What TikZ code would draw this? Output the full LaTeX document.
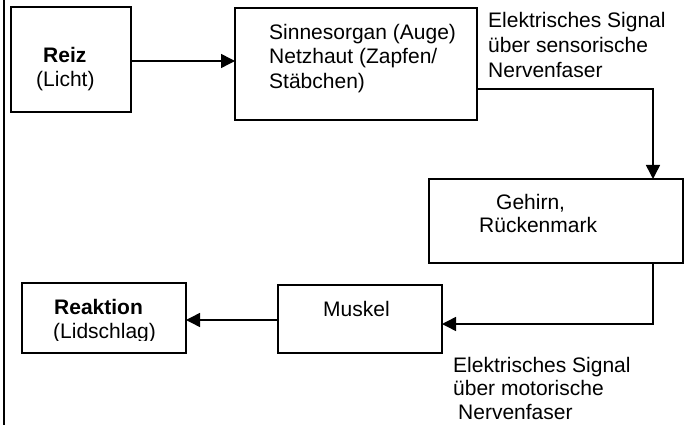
\documentclass[tikz,border=0pt]{standalone}
\usepackage{fontspec}
\setmainfont{Liberation Sans}
\usetikzlibrary{arrows.meta}
\begin{document}
\begin{tikzpicture}[x=1pt,y=-1pt,
  every node/.style={font=\fontsize{21}{24.5}\selectfont},
  boxnode/.style={draw,line width=1.5pt,minimum width=0pt},
  txt/.style={anchor=base west,inner sep=0pt},
  conn/.style={line width=1.5pt,-{Triangle[length=14pt,width=14pt]}}]
\useasboundingbox (0,0) rectangle (686,425);
\draw[line width=2pt] (4.3,0) -- (4.3,425);
% boxes
\draw[line width=1.5pt] (11,7) rectangle (131,112);
\coordinate (reizR) at (131,61);
\draw[line width=1.5pt] (235,8) rectangle (477,120);
\coordinate (sinnL) at (235,61);
\coordinate (sinnR) at (477,89);
\draw[line width=1.5pt] (429,179) rectangle (683,263);
\coordinate (gehT) at (653,179);
\coordinate (gehB) at (653,263);
\draw[line width=1.5pt] (278,285) rectangle (442,353);
\coordinate (musR) at (442,324);
\coordinate (musL) at (278,320);
\draw[line width=1.5pt] (22,283) rectangle (186,353);
\coordinate (reakR) at (186,320);
% texts
\node[txt,font=\fontsize{21}{24.5}\selectfont\bfseries] (t1) at (43,63) {Reiz};
\node[txt] (t2) at (36,87) {(Licht)};
\node[txt] (t3) at (269,39.5) {Sinnesorgan (Auge)};
\node[txt] (t4) at (269,64) {Netzhaut (Zapfen/};
\node[txt] (t5) at (269,88.5) {Stäbchen)};
\node[txt] (t6) at (488,28) {Elektrisches Signal};
\node[txt] (t7) at (488,53) {über sensorische};
\node[txt] (t8) at (488,78) {Nervenfaser};
\node[txt] (t9) at (496,210) {Gehirn,};
\node[txt] (t10) at (479,233) {Rückenmark};
\node[txt] (t11) at (323,316) {Muskel};
\node[txt,font=\fontsize{21}{24.5}\selectfont\bfseries] (t12) at (54,314) {Reaktion};
\begin{scope}
\clip (0,0) rectangle (686,340.5);
\node[txt] (t13) at (53,338) {(Lidschlag)};
\end{scope}
\node[txt] (t14) at (453,372) {Elektrisches Signal};
\node[txt] (t15) at (453,395) {über motorische};
\node[txt] (t16) at (458,419) {Nervenfaser};
% connectors
\draw[conn] (reizR) -- (sinnL);
\draw[conn] (sinnR) -| (gehT);
\draw[conn] (gehB) |- (musR);
\draw[conn] (musL) -- (reakR);
\end{tikzpicture}
\end{document}
